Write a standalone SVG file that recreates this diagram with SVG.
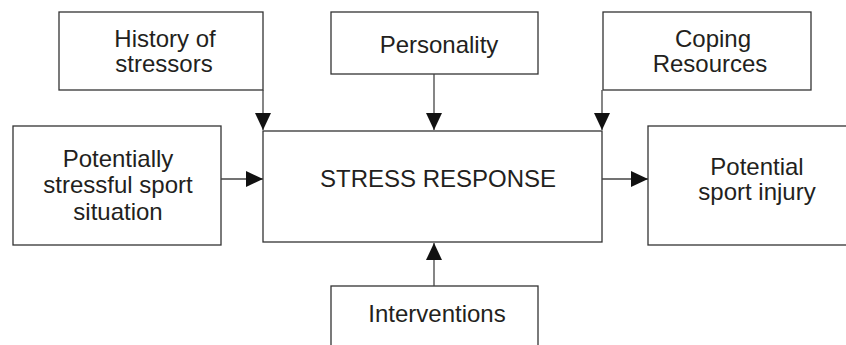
<svg xmlns="http://www.w3.org/2000/svg" width="846" height="345" viewBox="0 0 846 345">
<style>
.box{fill:#fff;stroke:#333;stroke-width:1.3}
.t{font-family:"Liberation Sans",Arial,sans-serif;font-size:24px;fill:#231f20;text-anchor:middle}
.c{fill:none;stroke:#444;stroke-width:1.3}
</style>
<defs>
<marker id="ah" markerUnits="userSpaceOnUse" markerWidth="17" markerHeight="16" refX="17" refY="8" orient="auto">
<path d="M0,0 L17,8 L0,16 Z" fill="#111"/>
</marker>
</defs>
<rect width="846" height="345" fill="#fff"/>
<g id="history"><rect class="box" x="59" y="12" width="204" height="78"/><text class="t" x="165" y="47">History of</text><text class="t" x="164" y="72">stressors</text></g>
<g id="personality"><rect class="box" x="331" y="12" width="207" height="62"/><text class="t" x="439" y="53">Personality</text></g>
<g id="coping"><rect class="box" x="603" y="12" width="208" height="78"/><text class="t" x="713" y="47">Coping</text><text class="t" x="710" y="72">Resources</text></g>
<g id="situation"><rect class="box" x="13" y="126" width="208" height="119"/><text class="t" x="118" y="167">Potentially</text><text class="t" x="118" y="193">stressful sport</text><text class="t" x="118" y="220">situation</text></g>
<g id="stress"><rect class="box" x="263" y="131" width="339" height="111"/><text class="t" x="438" y="187">STRESS RESPONSE</text></g>
<g id="injury"><rect class="box" x="648" y="126" width="220" height="119"/><text class="t" x="757" y="175">Potential</text><text class="t" x="757" y="200">sport injury</text></g>
<g id="interventions"><rect class="box" x="331" y="286" width="207" height="80"/><text class="t" x="437" y="322">Interventions</text></g>
<g id="connectors">
<line class="c" x1="263" y1="90" x2="263" y2="130" marker-end="url(#ah)"/>
<line class="c" x1="434" y1="74" x2="434" y2="130" marker-end="url(#ah)"/>
<line class="c" x1="602" y1="90" x2="602" y2="130" marker-end="url(#ah)"/>
<line class="c" x1="221" y1="179" x2="263" y2="179" marker-end="url(#ah)"/>
<line class="c" x1="602" y1="179" x2="648" y2="179" marker-end="url(#ah)"/>
<line class="c" x1="434" y1="286" x2="434" y2="243" marker-end="url(#ah)"/>
</g>
</svg>
